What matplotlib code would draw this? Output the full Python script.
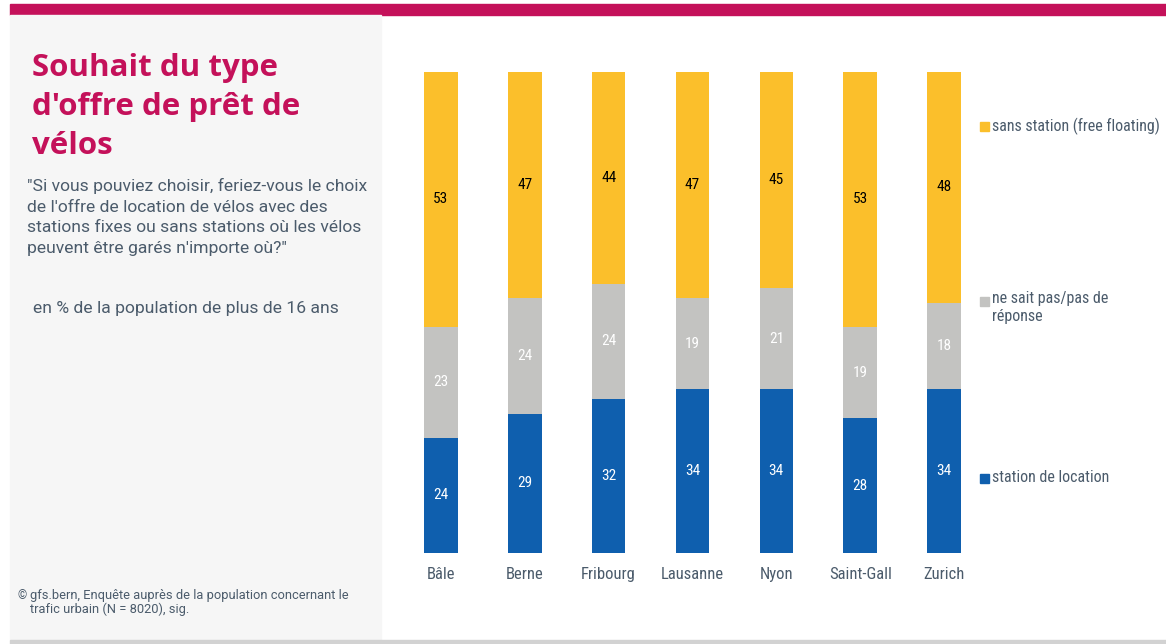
import matplotlib
matplotlib.use("Agg")
import matplotlib.pyplot as plt
from matplotlib.patches import Rectangle

# Donnees : part (%) par ville et par reponse
villes = ["Bâle", "Berne", "Fribourg", "Lausanne", "Nyon", "Saint-Gall", "Zurich"]
station_location = [24, 29, 32, 34, 34, 28, 34]
ne_sait_pas = [23, 24, 24, 19, 21, 19, 18]
sans_station = [53, 47, 44, 47, 45, 53, 48]

series_labels = ["station de location", "ne sait pas/pas de\nréponse",
                 "sans station (free floating)"]

COULEUR_BLEU = "#0F5FAE"
COULEUR_GRIS = "#C3C3C1"
COULEUR_JAUNE = "#FBBF2B"
COULEUR_TITRE = "#C4115A"
COULEUR_TEXTE = "#4B5B6B"
CONDENSE = ["Roboto Condensed", "Roboto", "DejaVu Sans"]

plt.rcParams["font.family"] = ["Roboto", "DejaVu Sans"]

W, H = 1166, 644
fig = plt.figure(figsize=(W / 100, H / 100), dpi=100)
fig.patch.set_facecolor("white")


def fx(px):
    return px / W


def fy(py):
    return 1 - py / H


# Bandeau magenta, panneau gauche gris clair, filet du bas
fig.patches.append(Rectangle((fx(10), fy(15)), fx(W - 10), 11 / H,
                             transform=fig.transFigure, color=COULEUR_TITRE,
                             zorder=0))
fig.patches.append(Rectangle((fx(10), fy(639)), fx(371), 624 / H,
                             transform=fig.transFigure, color="#F6F6F6",
                             zorder=0))
fig.patches.append(Rectangle((fx(10), 0), fx(W - 10), 4 / H,
                             transform=fig.transFigure, color="#D2D2D2",
                             zorder=0))

# Titre et textes du panneau gauche
fig.text(fx(32), fy(53), "Souhait du type\nd'offre de prêt de\nvélos",
         color=COULEUR_TITRE, fontsize=22.5, fontweight="bold",
         family=["Open Sans", "DejaVu Sans"], va="top", ha="left",
         linespacing=1.39)
fig.text(fx(27), fy(178), "\"Si vous pouviez choisir, feriez-vous le choix\n"
         "de l'offre de location de vélos avec des\n"
         "stations fixes ou sans stations où les vélos\n"
         "peuvent être garés n'importe où?\"",
         color=COULEUR_TEXTE, fontsize=12.6, va="top", ha="left",
         linespacing=1.46)
fig.text(fx(33), fy(309), "en % de la population de plus de 16 ans",
         color=COULEUR_TEXTE, fontsize=12.6, va="center", ha="left")
fig.text(fx(17), fy(596), "©", color=COULEUR_TEXTE, fontsize=8.5,
         va="center", ha="left")
fig.text(fx(30), fy(589), "gfs.bern, Enquête auprès de la population concernant le\n"
         "trafic urbain (N = 8020), sig.",
         color=COULEUR_TEXTE, fontsize=9.3, va="top", ha="left",
         linespacing=1.05)

# Zone du graphique
ax = fig.add_axes([fx(399), fy(553), fx(986 - 399), (553 - 72) / H])
ax.set_facecolor("none")

x = range(len(villes))
largeur = 0.4
bas = [0] * len(villes)
series = [station_location, ne_sait_pas, sans_station]
couleurs = [COULEUR_BLEU, COULEUR_GRIS, COULEUR_JAUNE]
couleurs_texte = ["white", "white", "black"]

for valeurs, couleur, ct in zip(series, couleurs, couleurs_texte):
    ax.bar(x, valeurs, largeur, bottom=bas, color=couleur, linewidth=0)
    for i, v in enumerate(valeurs):
        ax.text(i, bas[i] + v / 2, f"{v}", ha="center", va="center",
                color=ct, fontsize=11, family=CONDENSE)
    bas = [b + v for b, v in zip(bas, valeurs)]

ax.set_xlim(-0.5, len(villes) - 0.5)
ax.set_ylim(0, 100)
ax.set_xticks(list(x))
ax.set_xticklabels(villes, color=COULEUR_TEXTE, fontsize=12, family=CONDENSE)
ax.tick_params(axis="x", length=0, pad=10)
ax.set_yticks([])
for s in ax.spines.values():
    s.set_visible(False)

# Legende placee a la main a droite des barres
legende_y = [478, 301, 126]
for lab, couleur, py in zip(series_labels, couleurs, legende_y):
    fig.patches.append(Rectangle((fx(980), fy(py + 5)), fx(9), 9 / H,
                                 transform=fig.transFigure, color=couleur))
    if "\n" in lab:
        fig.text(fx(992), fy(py - 10), lab, color=COULEUR_TEXTE,
                 fontsize=11.5, va="top", ha="left", linespacing=1.25,
                 family=CONDENSE)
    else:
        fig.text(fx(992), fy(py), lab, color=COULEUR_TEXTE, fontsize=11.5,
                 va="center", ha="left", family=CONDENSE)

fig.savefig("out.png", dpi=100)
